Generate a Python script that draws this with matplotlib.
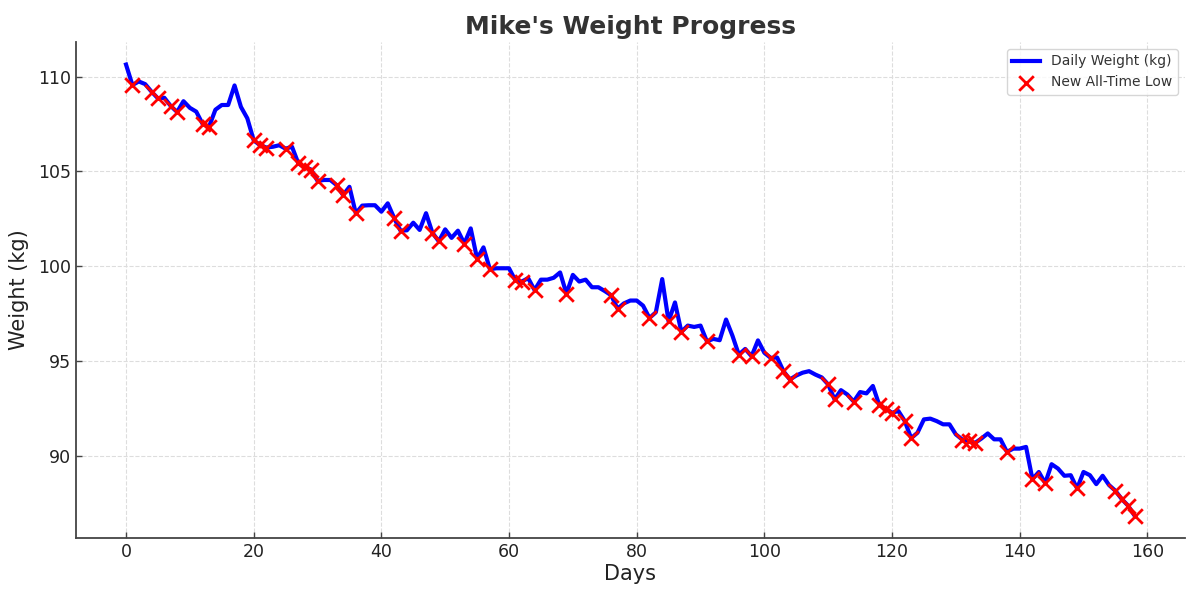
import numpy as np
import matplotlib
matplotlib.use("Agg")
import matplotlib.pyplot as plt

# daily weigh-ins, day 0..158
days = np.arange(159)
weights = [
    110.63, 109.55, 109.74, 109.60, 109.20, 108.85, 108.88, 108.45, 108.13, 108.70,
    108.35, 108.15, 107.50, 107.35, 108.25, 108.50, 108.50, 109.53, 108.40, 107.80,
    106.64, 106.38, 106.26, 106.30, 106.38, 106.20, 106.30, 105.42, 105.22, 105.10,
    104.50, 104.55, 104.55, 104.28, 103.75, 104.19, 102.79, 103.20, 103.22, 103.22,
    102.88, 103.32, 102.55, 101.88, 101.90, 102.30, 101.92, 102.80, 101.77, 101.32,
    101.95, 101.50, 101.88, 101.20, 102.00, 100.40, 101.00, 99.85, 99.90, 99.90,
    99.90, 99.26, 99.20, 99.38, 98.75, 99.30, 99.30, 99.40, 99.68, 98.56,
    99.55, 99.20, 99.30, 98.90, 98.90, 98.70, 98.48, 97.77, 98.05, 98.20,
    98.20, 97.93, 97.28, 97.58, 99.33, 97.10, 98.10, 96.55, 96.88, 96.81,
    96.88, 96.05, 96.18, 96.11, 97.20, 96.35, 95.35, 95.65, 95.27, 96.10,
    95.45, 95.18, 95.20, 94.48, 94.04, 94.25, 94.40, 94.48, 94.30, 94.15,
    93.78, 92.99, 93.48, 93.25, 92.88, 93.38, 93.31, 93.70, 92.70, 92.50,
    92.29, 92.38, 91.85, 90.95, 91.24, 91.94, 91.98, 91.85, 91.68, 91.68,
    91.15, 90.88, 90.80, 90.70, 90.93, 91.20, 90.89, 90.89, 90.23, 90.40,
    90.40, 90.49, 88.79, 89.17, 88.58, 89.58, 89.35, 88.97, 89.00, 88.30,
    89.17, 89.00, 88.53, 88.97, 88.48, 88.18, 87.74, 87.39, 86.87,
]
weights = np.array(weights)

# new all-time low = strictly below everything before it
prev_min = np.minimum.accumulate(np.concatenate([[np.inf], weights[:-1]]))
low_days = days[weights < prev_min][1:]
low_vals = weights[low_days]

txt = "#333333"
fig = plt.figure(figsize=(12, 6), dpi=100)
ax = fig.add_axes([0.063, 0.103, 0.9245, 0.827])

ax.plot(days, weights, color="blue", lw=3, label="Daily Weight (kg)", zorder=2)
ax.scatter(low_days, low_vals, marker="x", color="red", s=110, linewidths=2,
           label="New All-Time Low", zorder=3)

ax.set_title("Mike's Weight Progress", fontsize=18, fontweight="bold", color=txt)
ax.set_xlabel("Days", fontsize=15, color="#222222", labelpad=2)
ax.set_ylabel("Weight (kg)", fontsize=15, color="#222222", labelpad=6)
ax.tick_params(labelsize=12.5, labelcolor="#222222", color="#444444",
               direction="in", length=4, width=1)
ax.grid(True, linestyle="--", color="#dddddd", linewidth=0.8)
ax.set_axisbelow(True)
for s in ["top", "right"]:
    ax.spines[s].set_visible(False)
for s in ["left", "bottom"]:
    ax.spines[s].set_color("#444444")
    ax.spines[s].set_linewidth(1.3)

leg = ax.legend(loc="upper right", fontsize=10, frameon=True)
for t in leg.get_texts():
    t.set_color(txt)

fig.savefig("out.png", dpi=100)
